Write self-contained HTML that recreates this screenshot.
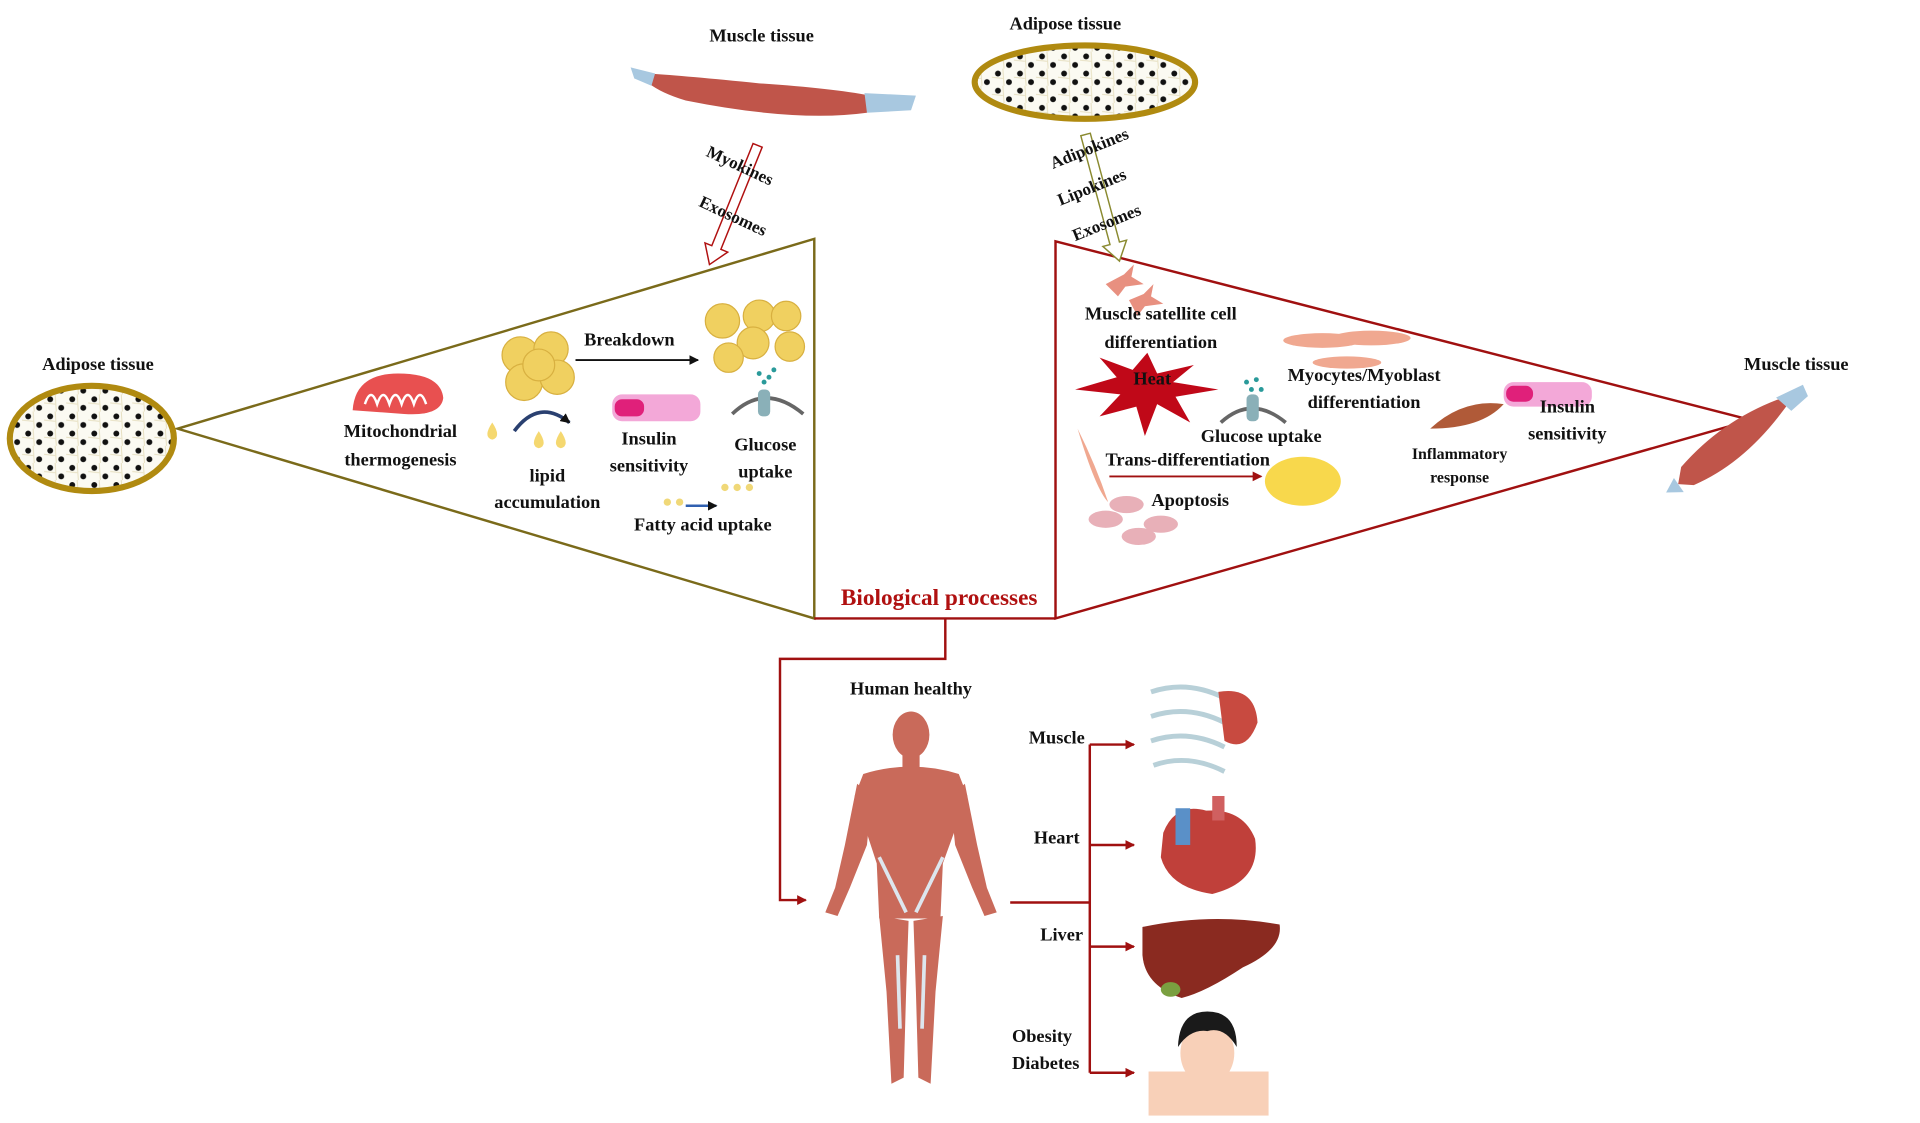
<!DOCTYPE html>
<html><head><meta charset="utf-8"><style>
html,body{margin:0;padding:0;background:#fff;}
svg{display:block}
text{font-family:"Liberation Serif",serif;font-weight:bold;fill:#111;}
</style></head><body>
<svg width="1920" height="1123" viewBox="0 0 1568 917" xmlns="http://www.w3.org/2000/svg">
<defs>
<marker id="ar" markerWidth="8" markerHeight="8" refX="7" refY="4" orient="auto" markerUnits="userSpaceOnUse"><path d="M0,0 L8,4 L0,8z" fill="#a01010"/></marker>
<marker id="ak" markerWidth="8" markerHeight="8" refX="7" refY="4" orient="auto" markerUnits="userSpaceOnUse"><path d="M0,0 L8,4 L0,8z" fill="#111"/></marker>
<pattern id="fat" width="18" height="14" patternUnits="userSpaceOnUse"><rect width="18" height="14" fill="#fbfaf2"/><circle cx="5" cy="4" r="2.4" fill="#111"/><circle cx="14" cy="11" r="2.4" fill="#111"/><path d="M0,7 L9,8 M9,0 L10,14" stroke="#e6dfc0" stroke-width="0.8"/></pattern>
</defs>

<polygon points="145,350 665,195 665,505" fill="none" stroke="#7a6a1a" stroke-width="2"/>
<polygon points="862,197 862,505 1430,343" fill="none" stroke="#a01010" stroke-width="2"/>
<line x1="665" y1="505" x2="862" y2="505" stroke="#a01010" stroke-width="2"/>
<text x="767" y="494" text-anchor="middle" font-size="19" style="fill:#b01010">Biological processes</text>

<polyline points="772,505 772,538 637,538 637,735 658,735" fill="none" stroke="#a01010" stroke-width="2" marker-end="url(#ar)"/>
<line x1="825" y1="737" x2="890" y2="737" stroke="#a01010" stroke-width="2"/>
<line x1="890" y1="608" x2="890" y2="876" stroke="#a01010" stroke-width="2"/>
<line x1="890" y1="608" x2="926" y2="608" stroke="#a01010" stroke-width="2" marker-end="url(#ar)"/>
<line x1="890" y1="690" x2="926" y2="690" stroke="#a01010" stroke-width="2" marker-end="url(#ar)"/>
<line x1="890" y1="773" x2="926" y2="773" stroke="#a01010" stroke-width="2" marker-end="url(#ar)"/>
<line x1="890" y1="876" x2="926" y2="876" stroke="#a01010" stroke-width="2" marker-end="url(#ar)"/>

<text x="622" y="34" text-anchor="middle" font-size="15">Muscle tissue</text>
<text x="870" y="24" text-anchor="middle" font-size="15">Adipose tissue</text>
<text x="80" y="302" text-anchor="middle" font-size="15">Adipose tissue</text>
<text x="1467" y="302" text-anchor="middle" font-size="15">Muscle tissue</text>
<text x="744" y="567" text-anchor="middle" font-size="15">Human healthy</text>

<ellipse cx="75" cy="358" rx="67" ry="43" fill="url(#fat)" stroke="#b08a10" stroke-width="5"/>
<ellipse cx="886" cy="67" rx="90" ry="30" fill="url(#fat)" stroke="#b08a10" stroke-width="5"/>

<g>
<path d="M530,60 Q560,62 620,68 Q680,72 710,78 L708,92 Q650,100 560,82 Q540,76 530,68 Z" fill="#c0554a"/>
<path d="M515,55 L535,60 L532,70 L518,64Z M706,76 L748,78 L744,90 L708,92Z" fill="#a8c8e0"/>
</g>
<g transform="rotate(-35 1418 362)">
<path d="M1370,352 Q1418,340 1466,352 L1476,358 Q1418,380 1370,370 L1360,362Z" fill="#c0554a"/>
<path d="M1466,350 L1490,354 L1488,364 L1470,366Z M1360,356 L1348,362 L1360,370Z" fill="#a8c8e0"/>
</g>

<g transform="rotate(22 600 165)">
<path d="M596,115 L604,115 L604,205 L610,205 L600,220 L590,205 L596,205Z" fill="#fff" stroke="#b01010" stroke-width="1.2"/>
</g>
<g transform="rotate(-15 900 160)">
<path d="M896,108 L904,108 L904,200 L910,200 L900,215 L890,200 L896,200Z" fill="#fff" stroke="#8a8a30" stroke-width="1.2"/>
</g>
<text transform="translate(576,127) rotate(25)" font-size="14">Myokines</text>
<text transform="translate(570,168) rotate(25)" font-size="14">Exosomes</text>
<text transform="translate(860,138) rotate(-22)" font-size="14">Adipokines</text>
<text transform="translate(866,168) rotate(-22)" font-size="14">Lipokines</text>
<text transform="translate(878,197) rotate(-22)" font-size="14">Exosomes</text>

<path d="M288,335 Q290,305 325,305 Q360,305 362,325 Q360,340 330,338 Z" fill="#e85050"/>
<path d="M298,330 q5,-15 10,0 q5,-15 10,0 q5,-15 10,0 q5,-15 10,0 q5,-15 10,0" fill="none" stroke="#fff" stroke-width="2"/>
<text x="327" y="357" text-anchor="middle" font-size="15">Mitochondrial</text>
<text x="327" y="380" text-anchor="middle" font-size="15">thermogenesis</text>
<g fill="#f0d060" stroke="#d8b040">
<circle cx="425" cy="290" r="15"/><circle cx="450" cy="285" r="14"/><circle cx="428" cy="312" r="15"/><circle cx="455" cy="308" r="14"/><circle cx="440" cy="298" r="13"/>
<circle cx="590" cy="262" r="14"/><circle cx="620" cy="258" r="13"/><circle cx="642" cy="258" r="12"/><circle cx="615" cy="280" r="13"/><circle cx="645" cy="283" r="12"/><circle cx="595" cy="292" r="12"/>
</g>
<path d="M420,352 Q440,325 465,345" fill="none" stroke="#2a4070" stroke-width="3" marker-end="url(#ak)"/>
<g fill="#f5d870"><path d="M402,345 q-8,12 0,14 q8,-2 0,-14z"/><path d="M440,352 q-8,12 0,14 q8,-2 0,-14z"/><path d="M458,352 q-8,12 0,14 q8,-2 0,-14z"/></g>
<text x="514" y="282" text-anchor="middle" font-size="15">Breakdown</text>
<line x1="470" y1="294" x2="570" y2="294" stroke="#111" stroke-width="1.5" marker-end="url(#ak)"/>
<text x="447" y="393" text-anchor="middle" font-size="15">lipid</text>
<text x="447" y="415" text-anchor="middle" font-size="15">accumulation</text>
<rect x="500" y="322" width="72" height="22" rx="8" fill="#f3a8d8"/><rect x="502" y="326" width="24" height="14" rx="6" fill="#e0207a"/>
<text x="530" y="363" text-anchor="middle" font-size="15">Insulin</text>
<text x="530" y="385" text-anchor="middle" font-size="15">sensitivity</text>
<path d="M598,338 Q625,312 656,338" fill="none" stroke="#666" stroke-width="3"/>
<rect x="619" y="318" width="10" height="22" rx="4" fill="#8ab0b8"/>
<g fill="#2a9a9a"><circle cx="620" cy="305" r="2"/><circle cx="628" cy="308" r="2"/><circle cx="624" cy="312" r="2"/><circle cx="632" cy="302" r="2"/></g>
<text x="625" y="368" text-anchor="middle" font-size="15">Glucose</text>
<text x="625" y="390" text-anchor="middle" font-size="15">uptake</text>
<g fill="#f0d878"><circle cx="545" cy="410" r="3"/><circle cx="555" cy="410" r="3"/><circle cx="592" cy="398" r="3"/><circle cx="602" cy="398" r="3"/><circle cx="612" cy="398" r="3"/></g>
<line x1="560" y1="413" x2="585" y2="413" stroke="#3060b0" stroke-width="2" marker-end="url(#ak)"/>
<text x="574" y="433" text-anchor="middle" font-size="15">Fatty acid uptake</text>

<g fill="#e89080"><path d="M903,232 l15,-8 l8,-8 l-2,10 l10,6 l-15,2 l-6,8z"/><path d="M922,245 l12,-5 l8,-8 l-2,10 l10,6 l-15,2 l-6,8z"/></g>
<text x="948" y="261" text-anchor="middle" font-size="15">Muscle satellite cell</text>
<text x="948" y="284" text-anchor="middle" font-size="15">differentiation</text>
<g fill="#f0a890"><ellipse cx="1080" cy="278" rx="32" ry="6"/><ellipse cx="1120" cy="276" rx="32" ry="6"/><ellipse cx="1100" cy="296" rx="28" ry="5"/></g>
<polygon points="937,288 945,305 975,298 958,312 995,318 960,324 972,345 945,330 935,356 928,332 898,340 915,322 878,318 912,308 898,292 925,302" fill="#c00818"/>
<text x="941" y="314" text-anchor="middle" font-size="15">Heat</text>
<path d="M997,345 Q1022,322 1050,345" fill="none" stroke="#666" stroke-width="3"/>
<rect x="1018" y="322" width="10" height="22" rx="4" fill="#8ab0b8"/>
<g fill="#2a9a9a"><circle cx="1018" cy="312" r="2"/><circle cx="1026" cy="310" r="2"/><circle cx="1022" cy="318" r="2"/><circle cx="1030" cy="318" r="2"/></g>
<text x="1114" y="311" text-anchor="middle" font-size="15">Myocytes/Myoblast</text>
<text x="1114" y="333" text-anchor="middle" font-size="15">differentiation</text>
<text x="1030" y="361" text-anchor="middle" font-size="15">Glucose uptake</text>
<path d="M1168,350 Q1195,325 1228,330 Q1210,350 1168,350z" fill="#b05a38"/>
<rect x="1228" y="312" width="72" height="20" rx="8" fill="#f3a8d8"/><rect x="1230" y="315" width="22" height="13" rx="6" fill="#e0207a"/>
<text x="1280" y="337" text-anchor="middle" font-size="15">Insulin</text>
<text x="1280" y="359" text-anchor="middle" font-size="15">sensitivity</text>
<text x="1192" y="375" text-anchor="middle" font-size="13">Inflammatory</text>
<text x="1192" y="394" text-anchor="middle" font-size="13">response</text>
<path d="M880,350 Q895,380 905,410 Q895,400 880,350z" fill="#f0a890"/>
<text x="970" y="380" text-anchor="middle" font-size="15">Trans-differentiation</text>
<line x1="906" y1="389" x2="1030" y2="389" stroke="#a01010" stroke-width="1.5" marker-end="url(#ar)"/>
<ellipse cx="1064" cy="393" rx="31" ry="20" fill="#f8d84c"/>
<text x="972" y="413" text-anchor="middle" font-size="15">Apoptosis</text>
<g fill="#e8b0b8"><ellipse cx="920" cy="412" rx="14" ry="7"/><ellipse cx="903" cy="424" rx="14" ry="7"/><ellipse cx="948" cy="428" rx="14" ry="7"/><ellipse cx="930" cy="438" rx="14" ry="7"/></g>

<g fill="#c96a5a">
<ellipse cx="744" cy="600" rx="15" ry="19"/>
<rect x="737" y="615" width="14" height="14"/>
<path d="M705,632 Q744,620 783,632 L790,650 L770,705 L768,750 L718,750 L716,705 L698,650Z"/>
<path d="M700,640 L690,690 L682,725 L674,745 L684,748 L694,725 L708,690 L712,650Z"/>
<path d="M788,640 L798,690 L806,725 L814,745 L804,748 L794,725 L780,690 L776,650Z"/>
<path d="M718,748 L742,752 L740,810 L738,880 L728,885 L724,810Z"/>
<path d="M746,752 L770,748 L764,810 L760,885 L750,880 L748,810Z"/>
</g>
<g stroke="#dde6ee" stroke-width="3" fill="none"><line x1="718" y1="700" x2="740" y2="745"/><line x1="770" y1="700" x2="748" y2="745"/><line x1="733" y1="780" x2="735" y2="840"/><line x1="755" y1="780" x2="753" y2="840"/></g>

<text x="863" y="607" text-anchor="middle" font-size="15">Muscle</text>
<text x="863" y="689" text-anchor="middle" font-size="15">Heart</text>
<text x="867" y="768" text-anchor="middle" font-size="15">Liver</text>
<text x="851" y="851" text-anchor="middle" font-size="15">Obesity</text>
<text x="854" y="873" text-anchor="middle" font-size="15">Diabetes</text>

<g stroke="#b8d0d8" stroke-width="4" fill="none"><path d="M940,565 Q970,555 1000,570"/><path d="M940,585 Q970,575 1000,590"/><path d="M940,605 Q970,595 1000,610"/><path d="M942,625 Q970,615 1000,630"/></g>
<path d="M995,565 Q1025,560 1027,590 Q1018,615 1000,605Z" fill="#c84a40"/>
<path d="M950,680 Q960,655 985,662 Q1015,660 1025,685 Q1030,720 990,730 Q955,725 948,700Z" fill="#c0403a"/>
<rect x="960" y="660" width="12" height="30" fill="#5a90c8"/><rect x="990" y="650" width="10" height="20" fill="#d06060"/>
<path d="M933,757 Q990,745 1045,755 Q1048,775 1015,790 Q985,810 965,815 Q935,805 933,780Z" fill="#8a2a20"/>
<ellipse cx="956" cy="808" rx="8" ry="6" fill="#7aa040"/>
<rect x="938" y="875" width="98" height="36" fill="#f8d0b8"/>
<ellipse cx="986" cy="860" rx="22" ry="26" fill="#f8d0b8"/>
<path d="M962,855 Q963,826 986,826 Q1010,826 1010,855 Q1000,838 986,842 Q972,840 962,855Z" fill="#1a1a1a"/>
</svg>
</body></html>
